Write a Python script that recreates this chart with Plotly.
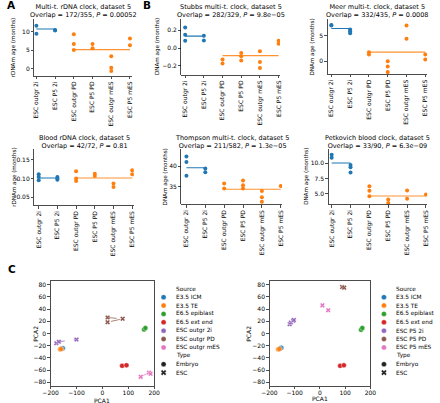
import plotly.graph_objects as go

W, H = 440, 403
FONT = "DejaVu Sans"
BLUE, ORANGE = "#1f77b4", "#ff7f0e"
TAB10 = ["#1f77b4", "#ff7f0e", "#2ca02c", "#d62728", "#9467bd", "#8c564b", "#e377c2"]

# ---------------- data: panels A/B (per-category sample values) ----------------
categories = ["ESC outgr 2i", "ESC P5 2i", "ESC outgr PD", "ESC P5 PD", "ESC outgr mES", "ESC P5 mES"]
cat_is_2i = [True, True, False, False, False, False]

multi_rdna = [[11.7, 9.5], [10.5, 10.4], [9.4, 6.7, 5.1], [6.7, 5.6], [3.4, 0.3, -0.6], [8.2, 6.4]]
multi_rdna_means = [10.8, 5.2]
stubbs = [[0.23, 0.15, 0.083], [0.139, 0.086], [-0.13, -0.175], [-0.056, -0.093, -0.141],
          [-0.037, -0.157, -0.224], [0.083, 0.049]]
stubbs_means = [0.134, -0.085]
meer = [[7.1, 7.0], [6.2, 5.85, 5.5], [1.8, 1.35], [0.0, -1.0, -2.1], [7.0, 4.4], [1.35, 0.35]]
meer_means = [6.4, 1.8]
blood_rdna = [[0.1115, 0.104, 0.0955], [0.104, 0.100, 0.097], [0.1195, 0.100, 0.0935],
              [0.113, 0.107], [0.0866, 0.0776], [0.122, 0.1115]]
blood_rdna_means = [0.1015, 0.1015]
thompson = [[42.3, 41.0, 37.7], [39.4, 38.5], [35.8, 34.6], [36.5, 35.4, 34.6], [34.0, 32.5, 31.4], [35.2]]
thompson_means = [39.6, 34.4]
petkovich = [[11.4, 10.9], [9.7, 9.35, 8.5], [6.25, 5.5, 4.6], [4.07, 3.5], [5.55, 4.2], [4.9]]
petkovich_means = [10.05, 4.65]

titles = ["Multi-t. rDNA clock, dataset 5", "Stubbs multi-t. clock, dataset 5", "Meer multi-t. clock, dataset 5",
          "Blood rDNA clock, dataset 5", "Thompson multi-t. clock, dataset 5", "Petkovich blood clock, dataset 5"]
overlaps = ["172/355", "282/329", "332/435", "42/72", "211/582", "33/90"]
pvalues = ["0.00052", "9.8e\u221205", "0.0008", "0.81", "1.3e\u221205", "6.3e\u221209"]
ytitles = ["rDNAm age (months)", "DNAm age (months)", "DNAm age (months)",
           "rDNAm age (months)", "DNAm age (months)", "DNAm age (months)"]
strip_values = [multi_rdna, stubbs, meer, blood_rdna, thompson, petkovich]
strip_means = [multi_rdna_means, stubbs_means, meer_means, blood_rdna_means, thompson_means, petkovich_means]

# ---------------- data: panel C (PCA) ----------------
sources_left = ["E3.5 ICM", "E3.5 TE", "E6.5 epiblast", "E6.5 ext end", "ESC outgr 2i", "ESC outgr PD", "ESC outgr mES"]
pca_left_x = [[-153, -158], [-163, -160], [161, 166], [76, 93], [-178, -168, -100], [20, 78, 20], [148, 180, 186]]
pca_left_y = [[-24, -25], [-26, -25.5], [6.5, 9], [-53, -52], [-16, -13.5, -10], [26, 24, 18.5], [-71, -64, -66]]
sources_right = ["E3.5 ICM", "E3.5 TE", "E6.5 epiblast", "E6.5 ext end", "ESC P5 2i", "ESC P5 PD", "ESC P5 mES"]
pca_right_x = [[-153, -158], [-165, -161], [163, 168], [80, 95], [-120, -115, -106, -103], [88, 96], [10, 33]]
pca_right_y = [[-23.5, -24.5], [-26, -25.5], [6, 9], [-53, -52], [15, 18, 21, 22], [76, 75], [46, 38]]
source_type = ["Embryo", "Embryo", "Embryo", "Embryo", "ESC", "ESC", "ESC"]
left_links = [False, False, False, False, True, True, True]
right_links = [False, False, False, False, True, True, False]

# ---------------- layout geometry (pixels) ----------------
# (L, R, top, bottom, first category px, category spacing, (v1,p1), (v2,p2), dtick, fmt, ytitle_x, title_cy)
strip_geom = [
    (27, 128, 18, 75, 29.3, 19.34, (10, 31), (0, 68), 5, "", 6, 10.3),
    (179, 281, 18, 74, 183, 19.3, (0.2, 29.3), (-0.2, 65), 0.2, ".1f", 155, 10.3),
    (330, 433, 18, 73.3, 334, 19.4, (5, 34.8), (0, 60.5), 5, "", 315, 10.3),
    (27, 130, 148, 205, 31.7, 19.32, (0.15, 159.3), (0.05, 196.7), 0.05, ".2f", 6, 141),
    (179, 283, 148, 204, 184.3, 19.48, (40, 165.5), (35, 186.3), 5, "", 163, 141),
    (331, 433, 148, 204, 334.3, 19.48, (10, 162.7), (5, 193.3), 2.5, ".1f", 308, 141),
]

def px(x):
    return x / W

def py(y):
    return 1 - y / H

def yrange(top, bot, t1, t2):
    (v1, p1), (v2, p2) = t1, t2
    slope = (p2 - p1) / (v1 - v2)
    return [v1 - (bot - p1) / slope, v1 + (p1 - top) / slope]

fig = go.Figure()
annotations = []
layout = {}

TICKFONT = dict(family=FONT, size=6.0, color="black")
AXLINE = dict(showline=True, linecolor="black", linewidth=0.7, ticks="outside", ticklen=2.5,
              tickwidth=0.7, tickcolor="black", showgrid=False, zeroline=False, tickfont=TICKFONT)

for k in range(6):
    L, R, top, bot, c0, s, t1, t2, dtick, fmt, ytx, tcy = strip_geom[k]
    n = k + 1
    xname = "x" if n == 1 else f"x{n}"
    yname = "y" if n == 1 else f"y{n}"
    vals = strip_values[k]
    means = strip_means[k]
    # group mean lines
    fig.add_trace(go.Scatter(x=[categories[0], categories[1]], y=[means[0], means[0]], mode="lines",
                             line=dict(color=BLUE, width=1.1), xaxis=xname, yaxis=yname, hoverinfo="skip"))
    fig.add_trace(go.Scatter(x=[categories[2], categories[5]], y=[means[1], means[1]], mode="lines",
                             line=dict(color=ORANGE, width=1.1), opacity=0.85, xaxis=xname, yaxis=yname,
                             hoverinfo="skip"))
    xs, ys, cs = [], [], []
    for i, v in enumerate(vals):
        for y in v:
            xs.append(categories[i])
            ys.append(y)
            cs.append(BLUE if cat_is_2i[i] else ORANGE)
    fig.add_trace(go.Scatter(x=xs, y=ys, mode="markers", marker=dict(color=cs, size=4),
                             xaxis=xname, yaxis=yname))
    layout["xaxis" if n == 1 else f"xaxis{n}"] = dict(
        AXLINE, domain=[px(L), px(R)], anchor=yname, type="category", categoryorder="array",
        categoryarray=categories, range=[(L - c0) / s, (R - c0) / s], tickangle=-90)
    yax = dict(AXLINE, domain=[py(bot), py(top)], anchor=xname, range=yrange(top, bot, t1, t2),
               dtick=dtick, tick0=0)
    if fmt:
        yax["tickformat"] = fmt
    layout["yaxis" if n == 1 else f"yaxis{n}"] = yax
    annotations.append(dict(x=px((L + R) / 2), y=py(tcy), xref="paper", yref="paper", showarrow=False,
                            text=f"{titles[k]}<br>Overlap = {overlaps[k]}, <i>P</i> = {pvalues[k]}",
                            font=dict(family=FONT, size=6.5, color="black"), xanchor="center",
                            yanchor="middle"))
    annotations.append(dict(x=px(ytx), y=py((top + bot) / 2), xref="paper", yref="paper", showarrow=False,
                            text=ytitles[k], textangle=-90, font=dict(family=FONT, size=5.6, color="black"),
                            xanchor="center", yanchor="middle"))

# ---------------- PCA panels ----------------
pca_geom = [
    (44, 151, 281, 386, sources_left, pca_left_x, pca_left_y, left_links, 29, 97.5, 400, 160.7, 171.7),
    (270, 374.3, 281, 386, sources_right, pca_right_x, pca_right_y, right_links, 249, 322, 398.5, 388.3, 398.3),
]
for j, (L, R, top, bot, srcs, X, Y, links, ylx, xlx, xly, mkx, txx) in enumerate(pca_geom):
    n = 7 + j
    xname, yname = f"x{n}", f"y{n}"
    for i, name in enumerate(srcs):
        if links[i]:
            fig.add_trace(go.Scatter(x=X[i], y=Y[i], mode="lines", xaxis=xname, yaxis=yname,
                                     line=dict(color=TAB10[i], width=1, dash="dash"), opacity=0.75,
                                     hoverinfo="skip"))
    for i, name in enumerate(srcs):
        sym = "circle" if source_type[i] == "Embryo" else "x"
        fig.add_trace(go.Scatter(x=X[i], y=Y[i], mode="markers", name=name, xaxis=xname, yaxis=yname,
                                 marker=dict(color=TAB10[i], size=5 if sym == "circle" else 4.5, symbol=sym,
                                             line=dict(color="white", width=0.4))))
    box = dict(AXLINE, mirror=True)
    layout[f"xaxis{n}"] = dict(box, domain=[px(L), px(R)], anchor=yname, range=[-200, 200], dtick=100,
                               ticklabelstandoff=-1)
    layout[f"yaxis{n}"] = dict(box, domain=[py(bot), py(top)], anchor=xname,
                               range=yrange(top, bot, (80, 284.3), (-80, 382.3)), dtick=20)
    annotations.append(dict(x=px(ylx), y=py((top + bot) / 2), xref="paper", yref="paper", showarrow=False,
                            text="PCA2", textangle=-90, font=dict(family=FONT, size=6.0, color="black"),
                            xanchor="center", yanchor="middle"))
    annotations.append(dict(x=px(xlx), y=py(xly), xref="paper", yref="paper", showarrow=False,
                            text="PCA1", font=dict(family=FONT, size=6.0, color="black"),
                            xanchor="center", yanchor="middle"))
    # legend (seaborn style: headers as entries)
    entries = ["Source"] + srcs + ["Type", "Embryo", "ESC"]
    lx, ly, lc, ls = [], [], [], []
    for e_i, e in enumerate(entries):
        yy = 288.5 + 8.4 * e_i
        annotations.append(dict(x=px(txx), y=py(yy), xref="paper", yref="paper", showarrow=False, text=e,
                                xanchor="left", yanchor="middle",
                                font=dict(family=FONT, size=5.8, color="black")))
        if e in srcs:
            lx.append(mkx); ly.append(yy); lc.append(TAB10[srcs.index(e)]); ls.append("circle")
        elif e == "Embryo":
            lx.append(mkx); ly.append(yy); lc.append("#222222"); ls.append("circle")
        elif e == "ESC":
            lx.append(mkx); ly.append(yy); lc.append("#222222"); ls.append("x")
    fig.add_trace(go.Scatter(x=lx, y=ly, mode="markers", xaxis="x9", yaxis="y9", hoverinfo="skip",
                             marker=dict(color=lc, symbol=ls, size=5, line=dict(color="white", width=0.3))))

layout["xaxis9"] = dict(domain=[0, 1], range=[0, W], visible=False, anchor="y9")
layout["yaxis9"] = dict(domain=[0, 1], range=[H, 0], visible=False, anchor="x9")

for letter, lxp, lyp in [("A", 4, 4.5), ("B", 144, 4.5), ("C", 4.5, 269)]:
    annotations.append(dict(x=px(lxp), y=py(lyp), xref="paper", yref="paper", showarrow=False,
                            text=f"<b>{letter}</b>", font=dict(family=FONT, size=10.5, color="black"),
                            xanchor="center", yanchor="middle"))

fig.update_layout(**layout)
fig.update_layout(width=W, height=H, margin=dict(l=0, r=0, t=0, b=0), showlegend=False,
                  paper_bgcolor="white", plot_bgcolor="rgba(0,0,0,0)", annotations=annotations,
                  font=dict(family=FONT, color="black"), hovermode=False)
fig.write_html("out.html", config={"displayModeBar": False, "staticPlot": True},
               post_script="document.body.style.margin='0';document.body.style.overflow='hidden';")
